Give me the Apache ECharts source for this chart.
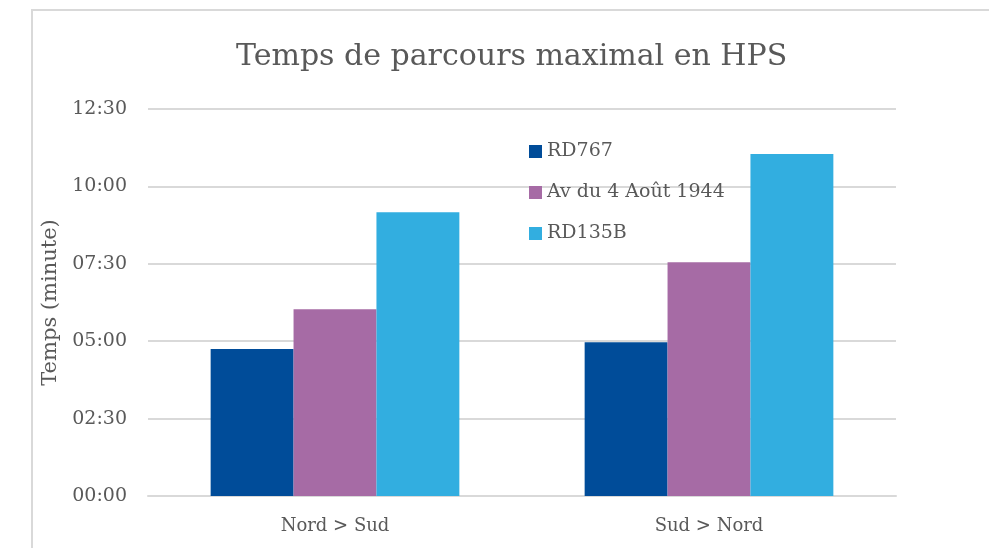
<!DOCTYPE html>
<html lang="fr">
<head>
    <meta charset="UTF-8">
    <title>Temps de parcours maximal en HPS</title>
    <script src="https://cdn.jsdelivr.net/npm/echarts@6/dist/echarts.min.js"></script>
    <style>
        html, body { margin: 0; padding: 0; background: #fff; }
        #chart { position: absolute; left: 0; top: 0; width: 989px; height: 548px; }
        #cadre { position: absolute; left: 31px; top: 9px; width: 980px; height: 560px;
                 border: 2px solid #d9d9d9; pointer-events: none; }
    </style>
</head>
<body>
<div id="chart"></div>
<div id="cadre"></div>
<script>
    // données (secondes)
    const sens      = ['Nord > Sud', 'Sud > Nord'];
    const rd767     = [285, 298];
    const av4aout   = [362, 453];
    const rd135b    = [550, 663];
    const seriesNom = ['RD767', 'Av du 4 Août 1944', 'RD135B'];
    const couleurs  = ['#004C99', '#A66BA5', '#32AEE0'];

    const police = '"DejaVu Serif", "Liberation Serif", serif';
    const gris   = '#595959';

    function mmss(v) {
        let m = Math.floor(v / 60), s = Math.round(v % 60);
        return String(m).padStart(2, '0') + ':' + String(s).padStart(2, '0');
    }

    let chart = echarts.init(document.getElementById('chart'));
    let option = {
        animation: false,
        title  : {
            text     : 'Temps de parcours maximal en HPS',
            left     : 231,
            top      : 37,
            textStyle: {fontFamily: police, fontWeight: 'normal', fontSize: 30, color: gris}
        },
        legend : {
            orient   : 'vertical',
            left     : 524,
            top      : 137,
            itemGap  : 22,
            itemWidth : 13,
            itemHeight: 13,
            icon     : 'rect',
            data     : seriesNom,
            textStyle: {fontFamily: police, fontSize: 19, color: gris}
        },
        grid   : {left: 148, right: 93, top: 109, bottom: 52},
        xAxis  : {
            type     : 'category',
            data     : sens,
            axisTick : {show: false},
            axisLine : {lineStyle: {color: '#d9d9d9', width: 2}},
            axisLabel: {fontFamily: police, fontSize: 18, color: gris, margin: 21}
        },
        yAxis  : {
            type     : 'value',
            min      : 0,
            max      : 750,
            interval : 150,
            name     : 'Temps (minute)',
            nameLocation: 'middle',
            nameGap  : 83,
            nameTextStyle: {fontFamily: police, fontSize: 21, color: gris},
            axisLine : {show: false},
            axisTick : {show: false},
            splitLine: {lineStyle: {color: '#d9d9d9', width: 2}},
            axisLabel: {fontFamily: police, fontSize: 19, color: gris, margin: 21, formatter: mmss}
        },
        series : [
            {name: seriesNom[0], type: 'bar', data: rd767, itemStyle: {color: couleurs[0]}, barGap: '0%', barCategoryGap: '33.5%'},
            {name: seriesNom[1], type: 'bar', data: av4aout, itemStyle: {color: couleurs[1]}, barGap: '0%', barCategoryGap: '33.5%'},
            {name: seriesNom[2], type: 'bar', data: rd135b, itemStyle: {color: couleurs[2]}, barGap: '0%', barCategoryGap: '33.5%'}
        ]
    };
    chart.setOption(option);
</script>
</body>
</html>
